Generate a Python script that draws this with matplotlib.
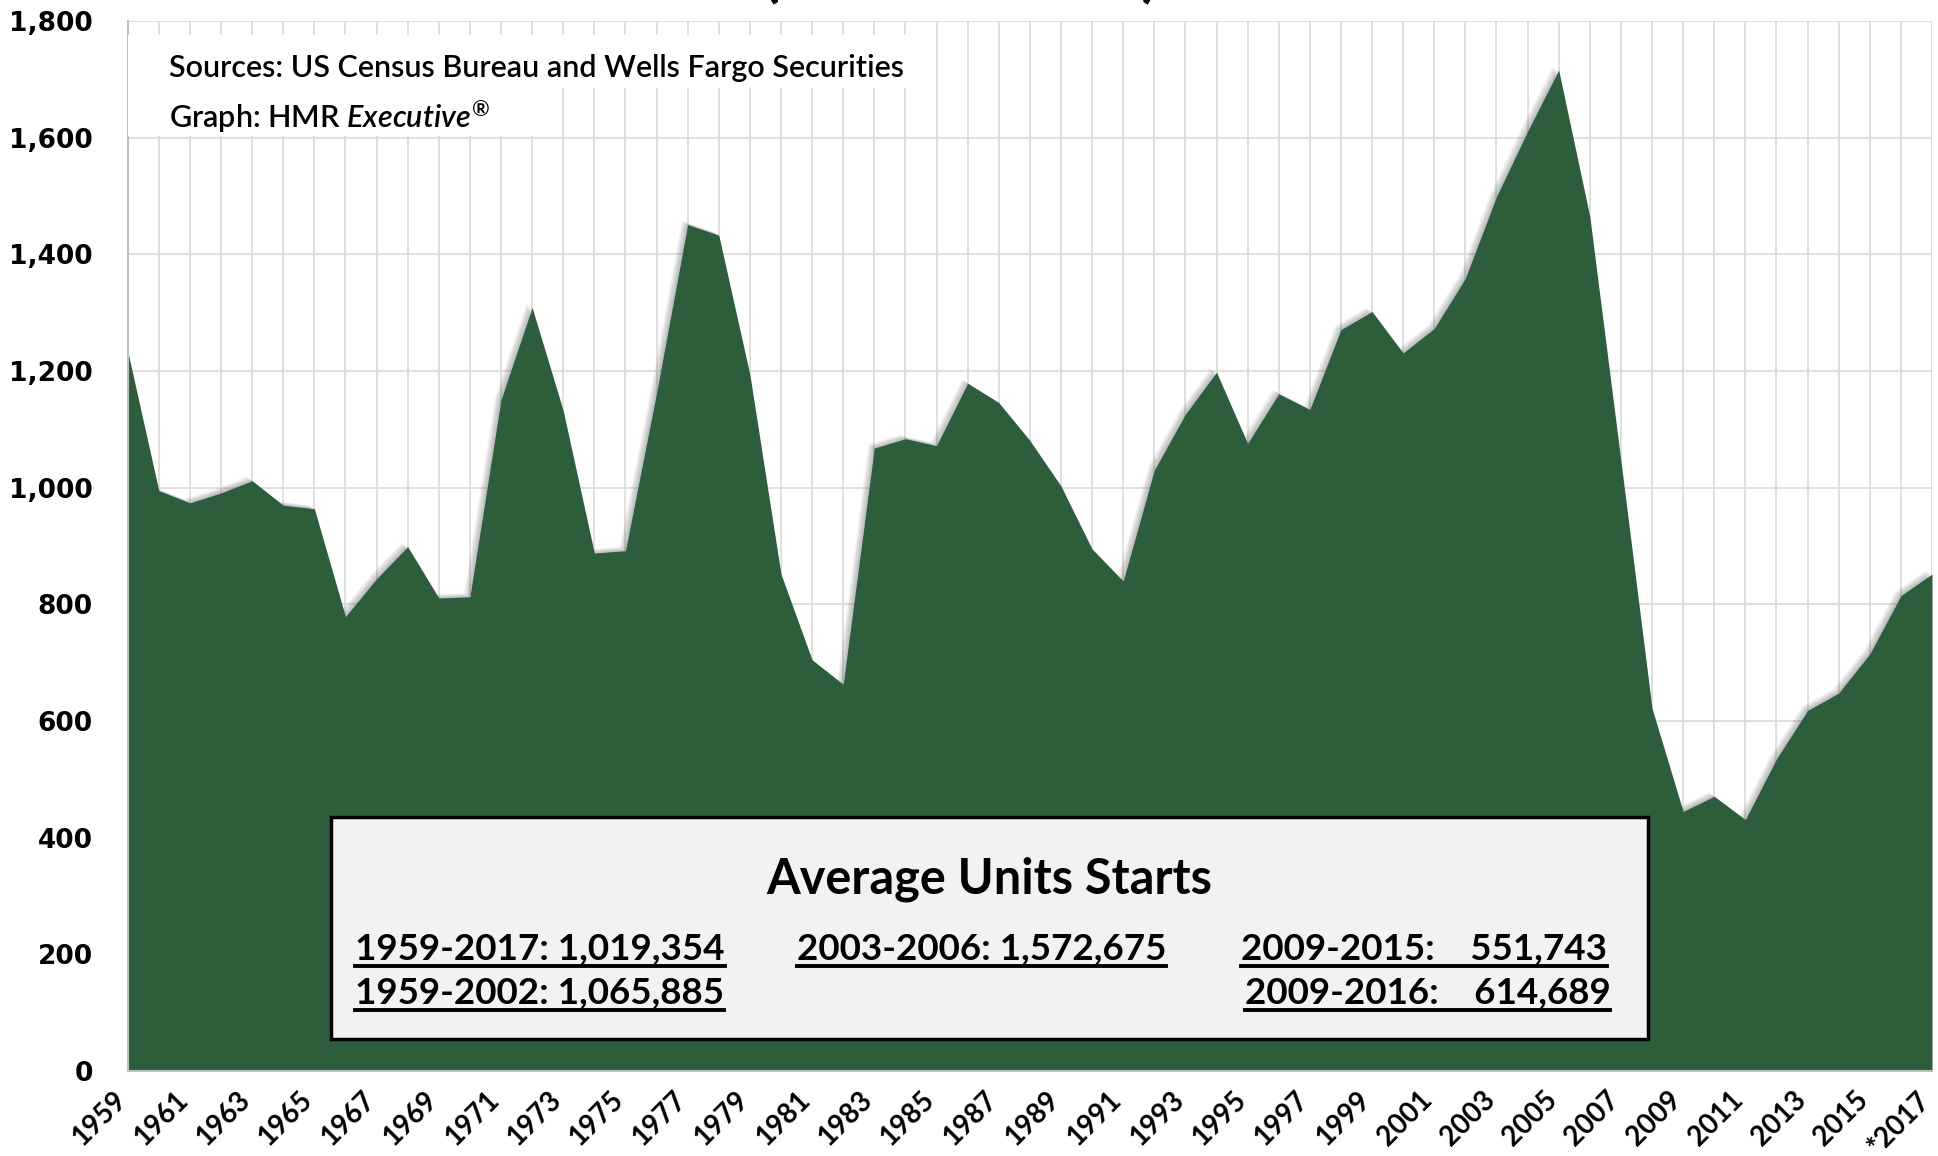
import numpy as np
import matplotlib.pyplot as plt
import matplotlib.transforms as mtransforms
from matplotlib.patches import Rectangle
from matplotlib.lines import Line2D

# single-family starts, thousands of units
years = np.arange(1959, 2018)
starts = [1234, 995, 974, 991, 1012, 970, 964, 779, 844, 899,
          811, 813, 1151, 1309, 1132, 888, 892, 1162, 1451, 1433,
          1194, 852, 705, 663, 1068, 1084, 1072, 1179, 1146, 1081,
          1003, 895, 840, 1030, 1126, 1198, 1076, 1161, 1134, 1271,
          1302, 1231, 1273, 1359, 1499, 1611, 1716, 1465, 1046, 622,
          445, 471, 431, 535, 618, 648, 715, 815, 852]

tick_years = years[::2]
tick_labels = [str(y) for y in tick_years[:-1]] + ["*2017"]
y_ticks = np.arange(0, 1801, 200)

box_title = "Average Units Starts"
avg_col1 = ["1959-2017: 1,019,354", "1959-2002: 1,065,885"]
avg_col2 = ["2003-2006: 1,572,675"]
avg_col3 = ["2009-2015:    551,743", "2009-2016:    614,689"]

green = "#2d5e3c"

plt.rcParams["mathtext.fontset"] = "custom"
plt.rcParams["mathtext.it"] = "Lato:italic:semibold"
plt.rcParams["mathtext.rm"] = "Lato:semibold"

fig = plt.figure(figsize=(19.38, 11.56), dpi=100)
ax = fig.add_axes([0.0659, 0.0735, 0.931, 0.9083])

# soft shadow up-left of the area
for i in range(1, 7):
    off = mtransforms.ScaledTranslation(-i * 0.75 / 72, i * 0.5 / 72, fig.dpi_scale_trans)
    ax.fill_between(years, starts, color="0.3", alpha=0.07, lw=0,
                    transform=ax.transData + off, zorder=1)
ax.fill_between(years, starts, color=green, lw=0, zorder=2)

ax.set_xlim(1959, 2017)
ax.set_ylim(0, 1800)
ax.set_xticks(years, minor=True)
ax.set_xticks(tick_years)
ax.set_xticklabels(tick_labels, rotation=45, ha="right", va="center",
                   rotation_mode="anchor", fontsize=20, fontweight="bold",
                   family="Lato")
ax.set_yticks(y_ticks)
ax.set_yticklabels([f"{v:,}" for v in y_ticks], fontsize=19,
                   fontweight="bold", family="DejaVu Sans")
ax.tick_params(axis="both", which="both", length=0)
ax.tick_params(axis="y", pad=25)
ax.tick_params(axis="x", pad=18)
shift = mtransforms.ScaledTranslation(-6 / 100, 0, fig.dpi_scale_trans)
for lbl in ax.get_xticklabels():
    lbl.set_transform(lbl.get_transform() + shift)
ax.grid(True, which="both", axis="x", color="#d9d9d9", lw=1.2)
ax.grid(True, which="major", axis="y", color="#d9d9d9", lw=1.2)
ax.set_axisbelow(True)
for s in ["top", "right"]:
    ax.spines[s].set_visible(False)
for s in ["left", "bottom"]:
    ax.spines[s].set_color("#bfbfbf")
    ax.spines[s].set_linewidth(1.5)
    ax.spines[s].set_zorder(3)

# cropped title at the very top
fig.text(0.4955, 1.0052, "(In Thousands)", ha="center", va="baseline",
         fontsize=44, fontweight="bold", family="Lato")

# source notes on white panels
ax.add_patch(Rectangle((0, 0.936), 0.4347, 0.0507, transform=ax.transAxes,
                       facecolor="white", edgecolor="none", zorder=4))
ax.add_patch(Rectangle((0, 0.8905), 0.240, 0.0455, transform=ax.transAxes,
                       facecolor="white", edgecolor="none", zorder=4))
note_kw = dict(transform=ax.transAxes, fontsize=22, fontweight="semibold",
               family="Lato", va="center", ha="left", zorder=5)
ax.text(0.023, 0.955, "Sources: US Census Bureau and Wells Fargo Securities", **note_kw)
ax.text(0.023, 0.909, r"Graph: HMR $\mathit{Executive}^{\circledR}$", **note_kw)

# averages box
ax.add_patch(Rectangle((0.1127, 0.0305), 0.7299, 0.2114, transform=ax.transAxes,
                       facecolor="#f2f2f2", edgecolor="black", lw=2.5, zorder=6))
ax.text(0.4775, 0.183, box_title, transform=ax.transAxes, ha="center",
        va="center", fontsize=35, fontweight="bold", family="Lato", zorder=7)

row_y = [0.106, 0.064]
stat_texts = []
for col_x, col in [(0.126, avg_col1), (0.371, avg_col2), (0.617, avg_col3)]:
    for k, s in enumerate(col):
        dx = 0.002 * k if col is avg_col3 else 0
        t = ax.text(col_x + dx, row_y[k], s, transform=ax.transAxes,
                    ha="left", va="baseline", fontsize=26.5, fontweight="bold",
                    family="Lato", zorder=7)
        stat_texts.append(t)

# underline each stat line
fig.canvas.draw()
inv = fig.transFigure.inverted()
for t in stat_texts:
    bb = t.get_window_extent()
    x0, y0 = t.get_transform().transform(t.get_position())
    (fx0, fy), (fx1, _) = inv.transform([(bb.x0, y0 - 6), (bb.x1, y0 - 6)])
    fig.add_artist(Line2D([fx0, fx1], [fy, fy], color="black", lw=2.8, zorder=8))

fig.savefig("out.png", dpi=100)
